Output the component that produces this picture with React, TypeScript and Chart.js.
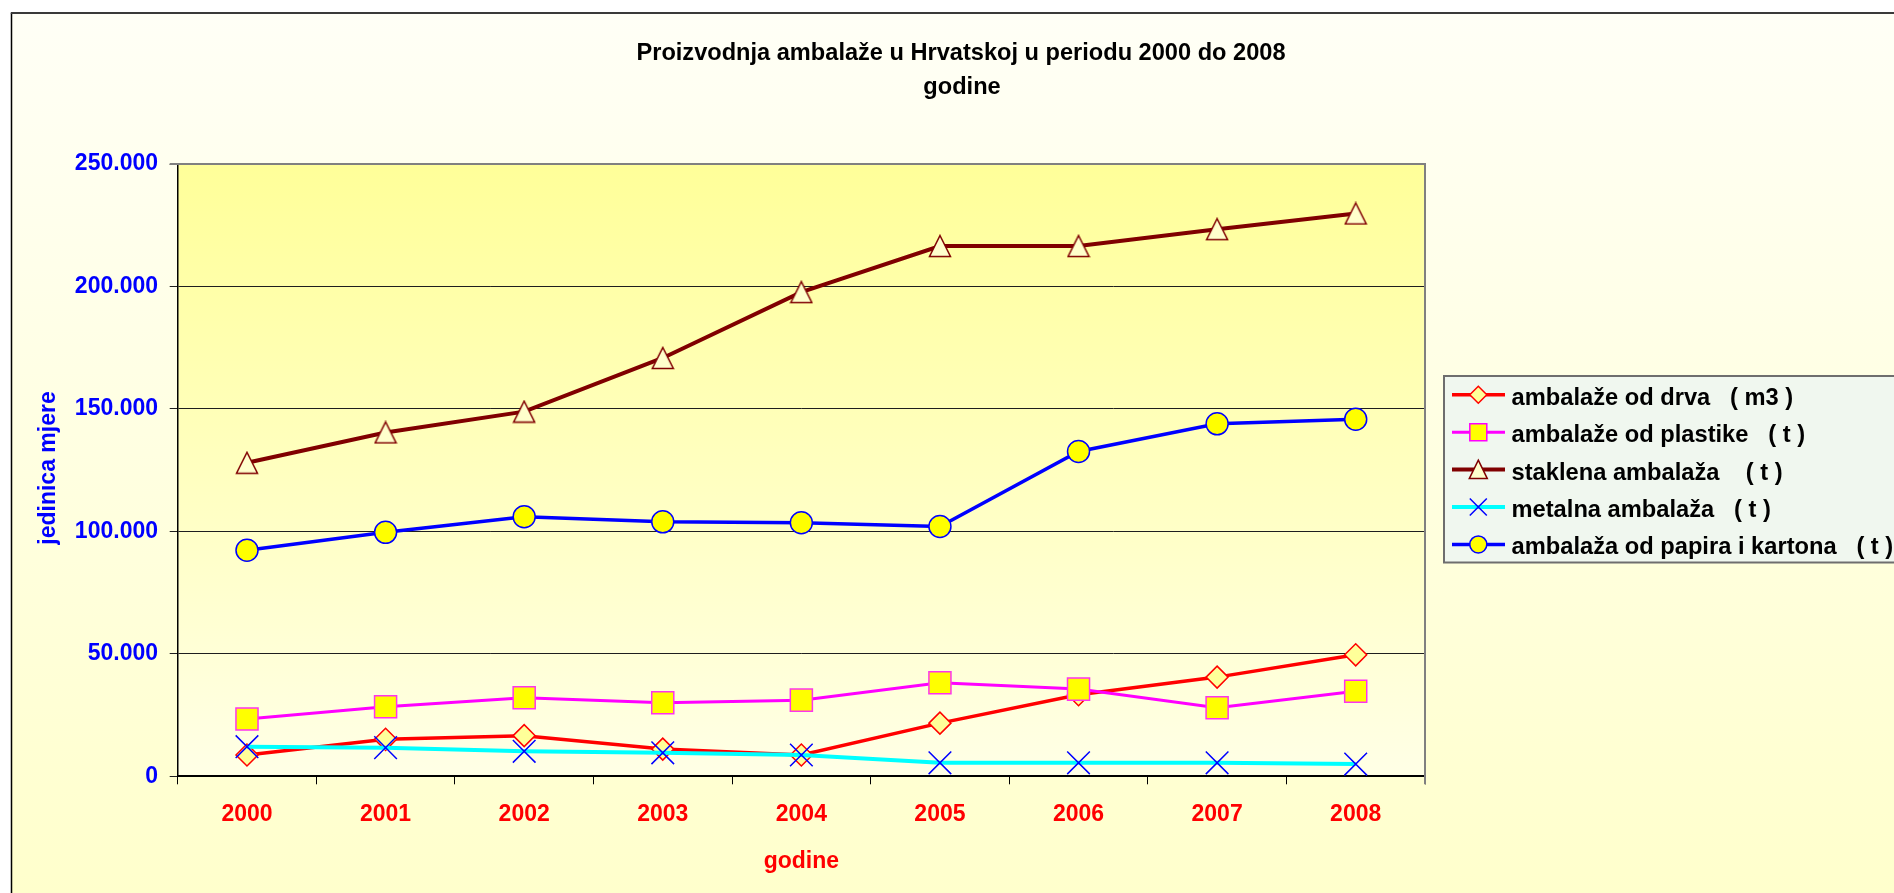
import React, { useEffect, useRef } from 'react';
import { Chart, registerables } from 'chart.js';

Chart.register(...registerables);

// ---------- data ----------
const years = ['2000', '2001', '2002', '2003', '2004', '2005', '2006', '2007', '2008'];
const drva = [8700, 15100, 16600, 11100, 8700, 21700, 33300, 40500, 49600];
const plastika = [23400, 28400, 32100, 30000, 31100, 38200, 35600, 28000, 34700];
const staklena = [128000, 140400, 148900, 170800, 197700, 216500, 216500, 223400, 229800];
const metal = [12100, 11700, 10200, 9600, 8700, 5500, 5500, 5500, 5000];
const papir = [92300, 99600, 106000, 103900, 103500, 102000, 132600, 143900, 145800];

const seriesNames = [
  'ambalaže od drva   ( m3 )',
  'ambalaže od plastike   ( t )',
  'staklena ambalaža    ( t )',
  'metalna ambalaža   ( t )',
  'ambalaža od papira i kartona   ( t )',
];
const titleLines = ['Proizvodnja ambalaže u Hrvatskoj u periodu 2000 do 2008', 'godine'];
const yAxisTitle = 'jedinica mjere';
const xAxisTitle = 'godine';
const yMin = 0;
const yMax = 250000;
const yStep = 50000;

const FONT = '"Liberation Sans", Arial, sans-serif';

function fmt(v: number): string {
  const s = Math.round(v).toString();
  return s.replace(/\B(?=(\d{3})+(?!\d))/g, '.');
}

function makeTriangle(): HTMLCanvasElement {
  const c = document.createElement('canvas');
  c.width = 24;
  c.height = 24;
  const g = c.getContext('2d')!;
  g.beginPath();
  g.moveTo(12, 1.5);
  g.lineTo(22.5, 22.5);
  g.lineTo(1.5, 22.5);
  g.closePath();
  g.fillStyle = '#FFFFCC';
  g.fill();
  g.strokeStyle = '#800000';
  g.lineWidth = 1.5;
  g.stroke();
  return c;
}

const legendStyles = [
  { line: '#FF0000', lw: 3.5, kind: 'diamond' },
  { line: '#FF00FF', lw: 3, kind: 'square' },
  { line: '#800000', lw: 4, kind: 'triangle' },
  { line: '#00FFFF', lw: 4, kind: 'cross' },
  { line: '#0000FF', lw: 3.5, kind: 'circle' },
];

function drawLegendMarker(ctx: CanvasRenderingContext2D, kind: string, x: number, y: number) {
  ctx.save();
  ctx.lineWidth = 1.5;
  ctx.beginPath();
  if (kind === 'diamond') {
    ctx.moveTo(x, y - 8.5);
    ctx.lineTo(x + 8.5, y);
    ctx.lineTo(x, y + 8.5);
    ctx.lineTo(x - 8.5, y);
    ctx.closePath();
    ctx.fillStyle = '#FFFF99';
    ctx.fill();
    ctx.strokeStyle = '#FF0000';
    ctx.stroke();
  } else if (kind === 'square') {
    ctx.rect(x - 8.5, y - 8.5, 17, 17);
    ctx.fillStyle = '#FFFF00';
    ctx.fill();
    ctx.strokeStyle = '#FF00FF';
    ctx.stroke();
  } else if (kind === 'triangle') {
    ctx.moveTo(x, y - 9.5);
    ctx.lineTo(x + 9, y + 9);
    ctx.lineTo(x - 9, y + 9);
    ctx.closePath();
    ctx.fillStyle = '#FFFFCC';
    ctx.fill();
    ctx.strokeStyle = '#800000';
    ctx.stroke();
  } else if (kind === 'cross') {
    ctx.moveTo(x - 8.5, y - 8.5);
    ctx.lineTo(x + 8.5, y + 8.5);
    ctx.moveTo(x + 8.5, y - 8.5);
    ctx.lineTo(x - 8.5, y + 8.5);
    ctx.strokeStyle = '#0000FF';
    ctx.stroke();
  } else {
    ctx.arc(x, y, 8.5, 0, Math.PI * 2);
    ctx.fillStyle = '#FFFF00';
    ctx.fill();
    ctx.strokeStyle = '#0000FF';
    ctx.stroke();
  }
  ctx.restore();
}

const decorPlugin = {
  id: 'decor',
  beforeDraw(chart: any) {
    const { ctx, width, height, chartArea: a } = chart;
    ctx.save();
    ctx.fillStyle = '#FFFFFF';
    ctx.fillRect(0, 0, width, height);
    const g = ctx.createLinearGradient(0, 13, 0, height);
    g.addColorStop(0, '#FFFFF6');
    g.addColorStop(1, '#FFFFCC');
    ctx.fillStyle = g;
    ctx.fillRect(11, 13, width - 11, height - 13);
    ctx.strokeStyle = '#000000';
    ctx.lineWidth = 1.5;
    ctx.beginPath();
    ctx.moveTo(11.5, height + 5);
    ctx.lineTo(11.5, 13);
    ctx.stroke();
    ctx.strokeStyle = '#3A3A3A';
    ctx.lineWidth = 2;
    ctx.beginPath();
    ctx.moveTo(10.8, 13);
    ctx.lineTo(width + 5, 13);
    ctx.stroke();
    const pg = ctx.createLinearGradient(0, a.top, 0, a.bottom);
    pg.addColorStop(0, '#FFFF99');
    pg.addColorStop(1, '#FFFFE6');
    ctx.fillStyle = pg;
    ctx.fillRect(a.left, a.top, a.right - a.left, a.bottom - a.top);
    ctx.restore();
  },
  beforeDatasetsDraw(chart: any) {
    const { ctx, chartArea: a } = chart;
    ctx.save();
    ctx.strokeStyle = '#808080';
    ctx.lineWidth = 2;
    ctx.beginPath();
    ctx.moveTo(a.left - 8, a.top);
    ctx.lineTo(a.right, a.top);
    ctx.lineTo(a.right, a.bottom + 8);
    ctx.stroke();
    ctx.restore();
  },
  afterDraw(chart: any) {
    const { ctx, chartArea: a, width } = chart;
    ctx.save();
    // title
    ctx.fillStyle = '#000000';
    ctx.font = `bold 23.6px ${FONT}`;
    ctx.textAlign = 'center';
    ctx.textBaseline = 'alphabetic';
    ctx.fillText(titleLines[0], 961, 60);
    ctx.fillText(titleLines[1], 962, 94);
    // x axis title
    ctx.font = `bold 23px ${FONT}`;
    ctx.fillStyle = '#FF0000';
    ctx.fillText(xAxisTitle, (a.left + a.right) / 2, 867.5);
    // y axis title
    ctx.save();
    ctx.translate(54.5, 468);
    ctx.rotate(-Math.PI / 2);
    ctx.fillStyle = '#0000FF';
    ctx.fillText(yAxisTitle, 0, 0);
    ctx.restore();
    // legend
    const lx = 1444;
    const ly = 376;
    const lb = 562.5;
    ctx.fillStyle = '#F0F7EF';
    ctx.fillRect(lx, ly, width - lx + 5, lb - ly);
    ctx.strokeStyle = '#6E6E6E';
    ctx.lineWidth = 2;
    ctx.beginPath();
    ctx.moveTo(width + 5, ly);
    ctx.lineTo(lx, ly);
    ctx.lineTo(lx, lb);
    ctx.lineTo(width + 5, lb);
    ctx.stroke();
    ctx.textAlign = 'left';
    for (let i = 0; i < seriesNames.length; i++) {
      const y = 394.8 + i * 37.4;
      const st = legendStyles[i];
      ctx.strokeStyle = st.line;
      ctx.lineWidth = st.lw;
      ctx.beginPath();
      ctx.moveTo(1452, y);
      ctx.lineTo(1505, y);
      ctx.stroke();
      drawLegendMarker(ctx, st.kind, 1478.3, y);
      ctx.fillStyle = '#000000';
      ctx.font = `bold 23.7px ${FONT}`;
      ctx.fillText(seriesNames[i], 1511.5, y + 10);
    }
    ctx.restore();
  },
};

export default function App() {
  const ref = useRef<HTMLCanvasElement>(null);
  useEffect(() => {
    const tri = makeTriangle();
    const chart = new Chart(ref.current as HTMLCanvasElement, {
      type: 'line',
      data: {
        labels: years,
        datasets: [
          {
            label: seriesNames[0], data: drva, borderColor: '#FF0000', borderWidth: 3.5,
            pointStyle: 'rectRot', pointRadius: 11, pointBackgroundColor: '#FFFF99',
            pointBorderColor: '#FF0000', pointBorderWidth: 1.5, order: 5, tension: 0, fill: false,
          },
          {
            label: seriesNames[1], data: plastika, borderColor: '#FF00FF', borderWidth: 3,
            pointStyle: 'rect', pointRadius: 15.6, pointBackgroundColor: '#FFFF00',
            pointBorderColor: '#FF33EE', pointBorderWidth: 1.5, order: 4, tension: 0, fill: false,
          },
          {
            label: seriesNames[2], data: staklena, borderColor: '#800000', borderWidth: 4,
            pointStyle: tri as any, pointRadius: 12, pointBackgroundColor: '#FFFFCC',
            pointBorderColor: '#800000', pointBorderWidth: 1.5, order: 3, tension: 0, fill: false,
          },
          {
            label: seriesNames[3], data: metal, borderColor: '#00FFFF', borderWidth: 4,
            pointStyle: 'crossRot', pointRadius: 16, pointBackgroundColor: '#0000FF',
            pointBorderColor: '#0000FF', pointBorderWidth: 1.5, order: 2, tension: 0, fill: false,
          },
          {
            label: seriesNames[4], data: papir, borderColor: '#0000FF', borderWidth: 3.5,
            pointStyle: 'circle', pointRadius: 11, pointBackgroundColor: '#FFFF00',
            pointBorderColor: '#0000FF', pointBorderWidth: 1.5, order: 1, tension: 0, fill: false,
          },
        ],
      },
      options: {
        responsive: false,
        animation: false,
        devicePixelRatio: 1,
        layout: { padding: { left: 57.7, right: 469, top: 164, bottom: 56.7 } },
        plugins: {
          legend: { display: false },
          title: { display: false },
          tooltip: { enabled: false },
        },
        scales: {
          x: {
            offset: true,
            grid: { offset: true, drawOnChartArea: false, drawTicks: true, tickLength: 8, color: '#000000', lineWidth: 1 },
            border: { display: true, color: '#000000', width: 2 },
            ticks: {
              color: '#FF0000', padding: 16.5, maxRotation: 0, autoSkip: false,
              font: { family: FONT, size: 23, weight: 'bold' },
            },
            afterFit: (s: any) => { s.height = 60; },
          },
          y: {
            min: yMin,
            max: yMax,
            ticks: {
              stepSize: yStep, color: '#0000FF', padding: 11.7,
              font: { family: FONT, size: 23, weight: 'bold' },
              callback: (v: any) => fmt(Number(v)),
            },
            grid: { color: '#1E1E1E', lineWidth: 1, tickLength: 8, drawTicks: true },
            border: { display: true, color: '#000000', width: 1.5 },
            afterFit: (s: any) => { s.width = 120; },
          },
        },
      } as any,
      plugins: [decorPlugin],
    });
    return () => chart.destroy();
  }, []);
  return (
    <div style={{ position: 'fixed', left: 0, top: 0, width: 1894, height: 893 }}>
      <canvas ref={ref} width={1894} height={893} style={{ display: 'block', width: 1894, height: 893 }} />
    </div>
  );
}
